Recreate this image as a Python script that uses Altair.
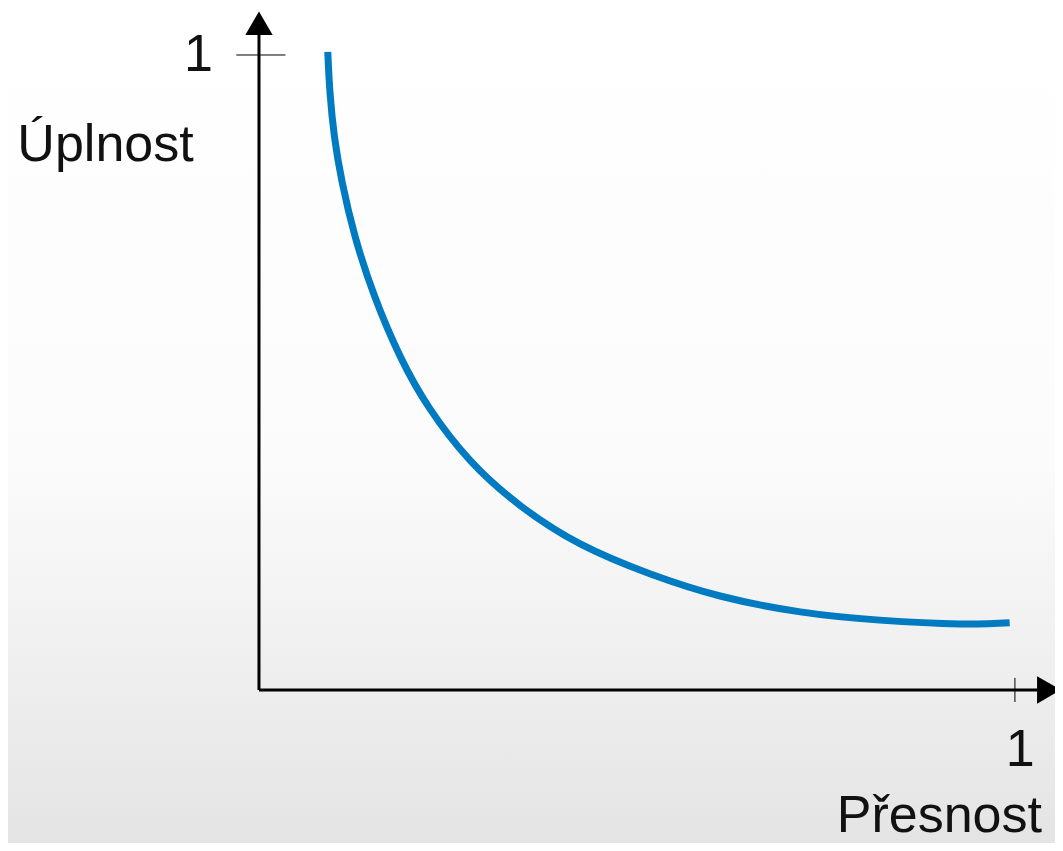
import altair as alt
import pandas as pd

# curve (x = Přesnost, y = Úplnost, both 0..1)
curve_x = [0.091, 0.094, 0.100, 0.110, 0.127, 0.153, 0.187, 0.226, 0.279, 0.345, 0.425, 0.517, 0.610, 0.716, 0.821, 0.927, 0.993]
curve_y = [1.005, 0.940, 0.870, 0.800, 0.715, 0.620, 0.525, 0.443, 0.362, 0.291, 0.230, 0.183, 0.148, 0.123, 0.110, 0.104, 0.106]

labels = ["1", "Úplnost", "1", "Přesnost"]
label_x = [-0.08, -0.203, 1.007, 0.9]
label_y = [1.0, 0.858, -0.094, -0.198]

W, H = 1047, 835
xs = alt.Scale(domain=[-0.332, 1.053], nice=False, zero=False)
ys = alt.Scale(domain=[-0.241, 1.074], nice=False, zero=False)
X = lambda f: alt.X(f, scale=xs, axis=None)
Y = lambda f: alt.Y(f, scale=ys, axis=None)

bg = alt.Chart(pd.DataFrame({"x": [-0.332], "x2": [1.053], "y": [-0.241], "y2": [1.074]})).mark_rect(
    fill=alt.Gradient(gradient="linear", x1=0, y1=0, x2=0, y2=1,
                      stops=[alt.GradientStop(offset=0, color="#ffffff"),
                             alt.GradientStop(offset=0.55, color="#fbfbfb"),
                             alt.GradientStop(offset=1, color="#e4e4e4")])
).encode(x=X("x:Q"), x2="x2", y=Y("y:Q"), y2="y2")

axes = alt.Chart(pd.DataFrame({
    "x": [0, 0, -0.03, 1.0], "x2": [1.04, 0, 0.035, 1.0],
    "y": [0, 0, 1.0, -0.019], "y2": [0, 1.05, 1.0, 0.019],
    "w": [3, 3, 1, 1],
})).mark_rule(color="black").encode(
    x=X("x:Q"), x2="x2", y=Y("y:Q"), y2="y2",
    strokeWidth=alt.StrokeWidth("w:Q", scale=None, legend=None))

arrows = alt.Chart(pd.DataFrame({"x": [0, 1.045], "y": [1.05, 0], "a": [0, 90]})).mark_point(
    shape="triangle-up", filled=True, color="black", size=750, opacity=1
).encode(x=X("x:Q"), y=Y("y:Q"), angle=alt.Angle("a:Q", scale=None))

line = alt.Chart(pd.DataFrame({"x": curve_x, "y": curve_y})).mark_line(
    color="#007ac0", strokeWidth=7, interpolate="natural", strokeCap="butt"
).encode(x=X("x:Q"), y=Y("y:Q"), order="x:Q")

text = alt.Chart(pd.DataFrame({"t": labels, "x": label_x, "y": label_y})).mark_text(
    font="Liberation Sans", fontSize=52, color="#111111"
).encode(x=X("x:Q"), y=Y("y:Q"), text="t:N")

chart = (bg + axes + line + arrows + text).properties(
    width=W, height=H, padding=0, autosize="none"
).configure_view(stroke=None)

chart.save("out.html", embed_options={"renderer": "svg", "actions": False})
